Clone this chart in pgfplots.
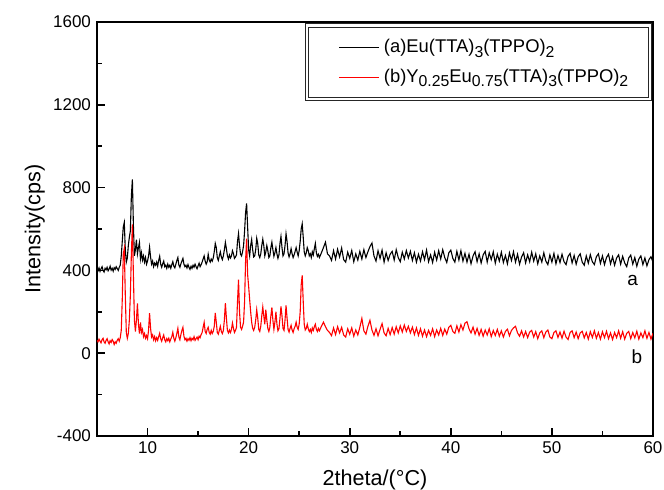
\documentclass[border=0pt]{standalone}
\usepackage{fontspec}
\setmainfont{Liberation Sans}
\usepackage{pgfplots}
\pgfplotsset{compat=1.18}
\newcommand\sub[1]{\raisebox{-0.45ex}{\fontsize{7.9}{8}\selectfont #1}}

\begin{document}
\fontsize{8.5}{10}\selectfont
\begin{tikzpicture}
\begin{axis}[
  scale only axis, width=278pt, height=207pt,
  xmin=5, xmax=60, ymin=-400, ymax=1600,
  xtick={10,20,...,60}, ytick={-400,0,...,1600},
  minor x tick num=1, minor y tick num=1,
  tick pos=left, tick align=inside,
  major tick length=4pt, minor tick length=2.5pt,
  axis line style={line width=0.9pt},
  every tick/.style={line width=0.8pt, black},
  tick label style={font=\fontsize{8.5}{10}\selectfont},
  /pgf/number format/assume math mode=true,
  /pgf/number format/set thousands separator={},
  xlabel={2theta/(°C)}, ylabel={Intensity(cps)},
  every axis x label/.style={at={(axis description cs:0.5,-0.106)}, anchor=center,
    font=\fontsize{10.8}{12}\selectfont},
  every axis y label/.style={at={(axis description cs:-0.112,0.5)}, rotate=90, anchor=center,
    font=\fontsize{10.8}{12}\selectfont},
  every axis plot/.append style={line width=0.55pt},
  legend style={at={(0.996,0.993)}, anchor=north east, draw=black!85,
    line width=0.5pt, double=white, double distance=1.2pt,
    inner xsep=9pt, inner ysep=5pt, row sep=3pt,
    font=\fontsize{9.2}{10}\selectfont, cells={anchor=west}},
  legend image code/.code={\path (0pt,0pt); \draw[#1, line width=0.5pt] (7pt,0pt) -- (27pt,0pt);},
]
% (a) Eu(TTA)3(TPPO)2
\addplot[black] coordinates {
(5.0,405) (5.1,398) (5.2,412) (5.3,395) (5.4,408) (5.5,418) (5.6,400) (5.7,392) (5.8,410) (5.9,403)
(6.0,415) (6.1,398) (6.2,407) (6.3,420) (6.4,401) (6.5,410) (6.6,396) (6.7,413) (6.8,405) (6.9,418)
(7.0,409) (7.1,400) (7.2,415) (7.3,425) (7.4,470) (7.5,540) (7.6,610) (7.7,632) (7.8,500) (7.9,440)
(8.0,460) (8.1,520) (8.2,560) (8.3,590) (8.4,760) (8.5,840) (8.6,620) (8.7,470) (8.8,500) (8.9,548)
(9.0,480) (9.1,510) (9.2,535) (9.3,455) (9.4,485) (9.5,450) (9.6,470) (9.7,440) (9.8,462) (9.9,430)
(10.0,445) (10.1,470) (10.2,512) (10.3,465) (10.4,430) (10.5,445) (10.6,418) (10.7,435) (10.8,425) (10.9,440)
(11.0,420) (11.1,448) (11.2,468) (11.3,430) (11.4,415) (11.5,432) (11.6,445) (11.7,418) (11.8,425) (11.9,410)
(12.0,430) (12.1,415) (12.2,425) (12.3,410) (12.4,428) (12.5,442) (12.6,420) (12.7,412) (12.8,430) (12.9,448)
(13.0,462) (13.1,425) (13.2,415) (13.3,432) (13.4,445) (13.5,458) (13.6,430) (13.7,418) (13.8,425) (13.9,412)
(14.0,428) (14.1,415) (14.2,405) (14.3,420) (14.4,410) (14.5,425) (14.6,415) (14.7,430) (14.8,418) (14.9,408)
(15.0,422) (15.1,435) (15.2,418) (15.3,428) (15.4,440) (15.5,455) (15.6,470) (15.7,445) (15.8,430) (15.9,442)
(16.0,478) (16.1,450) (16.2,440) (16.3,455) (16.4,445) (16.5,460) (16.6,490) (16.7,530) (16.8,510) (16.9,462)
(17.0,448) (17.1,470) (17.2,490) (17.3,465) (17.4,452) (17.5,470) (17.6,500) (17.7,535) (17.8,505) (17.9,470)
(18.0,455) (18.1,475) (18.2,460) (18.3,470) (18.4,495) (18.5,480) (18.6,458) (18.7,465) (18.8,475) (18.9,540)
(19.0,578) (19.1,520) (19.2,478) (19.3,470) (19.4,490) (19.5,520) (19.6,590) (19.7,680) (19.8,724) (19.9,610)
(20.0,500) (20.1,470) (20.2,520) (20.3,549) (20.4,500) (20.5,465) (20.6,470) (20.7,500) (20.8,555) (20.9,530)
(21.0,475) (21.1,462) (21.2,480) (21.3,520) (21.4,551) (21.5,520) (21.6,470) (21.7,490) (21.8,520) (21.9,495)
(22.0,462) (22.1,470) (22.2,510) (22.3,536) (22.4,500) (22.5,468) (22.6,485) (22.7,510) (22.8,480) (22.9,458)
(23.0,475) (23.1,530) (23.2,564) (23.3,510) (23.4,470) (23.5,480) (23.6,520) (23.7,577) (23.8,540) (23.9,485)
(24.0,465) (24.1,480) (24.2,505) (24.3,480) (24.4,462) (24.5,475) (24.6,492) (24.7,510) (24.8,488) (24.9,470)
(25.0,495) (25.1,540) (25.2,600) (25.3,625) (25.4,560) (25.5,490) (25.6,470) (25.7,485) (25.8,510) (25.9,495)
(26.0,470) (26.1,480) (26.2,462) (26.3,490) (26.4,475) (26.5,505) (26.6,530) (26.7,485) (26.8,468) (26.9,478)
(27.0,462) (27.2,485) (27.4,510) (27.6,536) (27.8,480) (28.0,470)
(28.2,448) (28.4,495) (28.6,455) (28.8,502) (29.0,465) (29.2,508) (29.4,452) (29.6,440) (29.8,488) (30.0,458)
(30.2,496) (30.4,442) (30.6,480) (30.8,450) (31.0,492) (31.2,455) (31.4,500) (31.6,462) (31.8,490) (32.0,515)
(32.2,532) (32.4,470) (32.6,445) (32.8,495) (33.0,458) (33.2,498) (33.4,440) (33.6,485) (33.8,448) (34.0,478)
(34.2,492) (34.4,450) (34.6,500) (34.8,462) (35.0,442) (35.2,488) (35.4,455) (35.6,496) (35.8,460) (36.0,492)
(36.2,448) (36.4,485) (36.6,440) (36.8,478) (37.0,445) (37.2,490) (37.4,452) (37.6,498) (37.8,442) (38.0,475)
(38.2,438) (38.4,488) (38.6,450) (38.8,495) (39.0,455) (39.2,500) (39.4,462) (39.6,438) (39.8,485) (40.0,498)
(40.2,458) (40.4,440) (40.6,492) (40.8,450) (41.0,495) (41.2,445) (41.4,482) (41.6,440) (41.8,478) (42.0,432)
(42.2,470) (42.4,490) (42.6,442) (42.8,480) (43.0,436) (43.2,475) (43.4,492) (43.6,440) (43.8,485) (44.0,452)
(44.2,490) (44.4,435) (44.6,478) (44.8,445) (45.0,488) (45.2,438) (45.4,472) (45.6,432) (45.8,485) (46.0,448)
(46.2,490) (46.4,440) (46.6,478) (46.8,430) (47.0,465) (47.2,485) (47.4,436) (47.6,475) (47.8,442) (48.0,488)
(48.2,445) (48.4,480) (48.6,432) (48.8,470) (49.0,440) (49.2,485) (49.4,445) (49.6,428) (49.8,475) (50.0,440)
(50.2,482) (50.4,432) (50.6,472) (50.8,438) (51.0,478) (51.2,442) (51.4,428) (51.6,468) (51.8,482) (52.0,436)
(52.2,472) (52.4,430) (52.6,466) (52.8,480) (53.0,440) (53.2,425) (53.4,470) (53.6,435) (53.8,476) (54.0,442)
(54.2,428) (54.4,466) (54.6,480) (54.8,434) (55.0,470) (55.2,428) (55.4,462) (55.6,478) (55.8,432) (56.0,466)
(56.2,425) (56.4,460) (56.6,475) (56.8,430) (57.0,468) (57.2,436) (57.4,418) (57.6,460) (57.8,474) (58.0,430)
(58.2,462) (58.4,420) (58.6,455) (58.8,470) (59.0,428) (59.2,460) (59.4,422) (59.6,452) (59.8,466) (60.0,440)
};
% (b) Y0.25Eu0.75(TTA)3(TPPO)2
\addplot[red] coordinates {
(5.0,62) (5.1,55) (5.2,68) (5.3,58) (5.4,50) (5.5,65) (5.6,72) (5.7,55) (5.8,48) (5.9,62)
(6.0,70) (6.1,55) (6.2,45) (6.3,60) (6.4,52) (6.5,66) (6.6,58) (6.7,42) (6.8,55) (6.9,48)
(7.0,62) (7.1,70) (7.2,58) (7.3,75) (7.4,110) (7.5,260) (7.6,480) (7.7,506) (7.8,280) (7.9,100)
(8.0,72) (8.1,95) (8.2,160) (8.3,280) (8.4,480) (8.5,622) (8.6,380) (8.7,160) (8.8,105) (8.9,160)
(9.0,241) (9.1,140) (9.2,95) (9.3,149) (9.4,100) (9.5,115) (9.6,80) (9.7,95) (9.8,72) (9.9,85)
(10.0,70) (10.1,110) (10.2,193) (10.3,120) (10.4,78) (10.5,88) (10.6,65) (10.7,80) (10.8,60) (10.9,75)
(11.0,62) (11.1,80) (11.2,96) (11.3,70) (11.4,58) (11.5,75) (11.6,88) (11.7,65) (11.8,55) (11.9,70)
(12.0,60) (12.1,72) (12.2,55) (12.3,68) (12.4,80) (12.5,101) (12.6,72) (12.7,58) (12.8,75) (12.9,95)
(13.0,120) (13.1,78) (13.2,65) (13.3,90) (13.4,110) (13.5,125) (13.6,82) (13.7,65) (13.8,72) (13.9,58)
(14.0,70) (14.1,62) (14.2,75) (14.3,60) (14.4,72) (14.5,65) (14.6,80) (14.7,62) (14.8,70) (14.9,78)
(15.0,65) (15.1,82) (15.2,75) (15.3,90) (15.4,100) (15.5,125) (15.6,149) (15.7,105) (15.8,95) (15.9,115)
(16.0,125) (16.1,100) (16.2,92) (16.3,110) (16.4,95) (16.5,105) (16.6,130) (16.7,194) (16.8,150) (16.9,100)
(17.0,92) (17.1,110) (17.2,130) (17.3,105) (17.4,95) (17.5,110) (17.6,160) (17.7,242) (17.8,170) (17.9,110)
(18.0,98) (18.1,112) (18.2,100) (18.3,115) (18.4,146) (18.5,120) (18.6,100) (18.7,110) (18.8,125) (18.9,250)
(19.0,355) (19.1,200) (19.2,125) (19.3,115) (19.4,130) (19.5,150) (19.6,250) (19.7,450) (19.8,553) (19.9,380)
(20.0,323) (20.1,260) (20.2,200) (20.3,150) (20.4,120) (20.5,110) (20.6,125) (20.7,160) (20.8,210) (20.9,170)
(21.0,115) (21.1,105) (21.2,130) (21.3,180) (21.4,223) (21.5,180) (21.6,140) (21.7,210) (21.8,160) (21.9,120)
(22.0,105) (22.1,125) (22.2,180) (22.3,221) (22.4,160) (22.5,115) (22.6,150) (22.7,200) (22.8,140) (22.9,108)
(23.0,118) (23.1,170) (23.2,226) (23.3,180) (23.4,120) (23.5,110) (23.6,160) (23.7,231) (23.8,170) (23.9,115)
(24.0,102) (24.1,120) (24.2,135) (24.3,112) (24.4,100) (24.5,118) (24.6,130) (24.7,150) (24.8,125) (24.9,115)
(25.0,140) (25.1,200) (25.2,330) (25.3,376) (25.4,250) (25.5,140) (25.6,112) (25.7,120) (25.8,140) (25.9,118)
(26.0,105) (26.1,115) (26.2,100) (26.3,122) (26.4,110) (26.5,128) (26.6,140) (26.7,115) (26.8,105) (26.9,120)
(27.0,108) (27.2,130) (27.4,150) (27.6,128) (27.8,110) (28.0,100)
(28.2,85) (28.4,122) (28.6,90) (28.8,128) (29.0,98) (29.2,125) (29.4,88) (29.6,78) (29.8,118) (30.0,92)
(30.2,122) (30.4,82) (30.6,112) (30.8,88) (31.0,125) (31.2,168) (31.4,108) (31.6,92) (31.8,130) (32.0,159)
(32.2,112) (32.4,86) (32.6,118) (32.8,84) (33.0,115) (33.2,143) (33.4,98) (33.6,84) (33.8,120) (34.0,90)
(34.2,124) (34.4,92) (34.6,128) (34.8,98) (35.0,132) (35.2,102) (35.4,136) (35.6,105) (35.8,130) (36.0,98)
(36.2,126) (36.4,90) (36.6,122) (36.8,86) (37.0,118) (37.2,82) (37.4,112) (37.6,80) (37.8,110) (38.0,86)
(38.2,118) (38.4,80) (38.6,112) (38.8,88) (39.0,120) (39.2,86) (39.4,116) (39.6,92) (39.8,125) (40.0,135)
(40.2,105) (40.4,96) (40.6,132) (40.8,102) (41.0,138) (41.2,112) (41.4,145) (41.6,152) (41.8,118) (42.0,98)
(42.2,126) (42.4,92) (42.6,120) (42.8,86) (43.0,115) (43.2,82) (43.4,112) (43.6,88) (43.8,118) (44.0,80)
(44.2,110) (44.4,85) (44.6,115) (44.8,82) (45.0,108) (45.2,78) (45.4,105) (45.6,116) (45.8,84) (46.0,110)
(46.2,122) (46.4,130) (46.6,98) (46.8,82) (47.0,108) (47.2,78) (47.4,105) (47.6,75) (47.8,102) (48.0,110)
(48.2,78) (48.4,104) (48.6,70) (48.8,98) (49.0,108) (49.2,75) (49.4,102) (49.6,112) (49.8,78) (50.0,70)
(50.2,100) (50.4,108) (50.6,76) (50.8,102) (51.0,72) (51.2,106) (51.4,78) (51.6,66) (51.8,100) (52.0,108)
(52.2,75) (52.4,102) (52.6,70) (52.8,98) (53.0,106) (53.2,74) (53.4,100) (53.6,68) (53.8,104) (54.0,76)
(54.2,108) (54.4,72) (54.6,100) (54.8,68) (55.0,104) (55.2,75) (55.4,106) (55.6,70) (55.8,98) (56.0,66)
(56.2,100) (56.4,75) (56.6,108) (56.8,72) (57.0,104) (57.2,68) (57.4,96) (57.6,105) (57.8,70) (58.0,100)
(58.2,74) (58.4,106) (58.6,68) (58.8,98) (59.0,75) (59.2,108) (59.4,72) (59.6,100) (59.8,68) (60.0,96)
};
\legend{(a)Eu(TTA)\sub{3}(TPPO)\sub{2}, (b)Y\sub{0.25}Eu\sub{0.75}(TTA)\sub{3}(TPPO)\sub{2}}
\node[font=\fontsize{9.5}{11}\selectfont] at (axis cs:58.0,352) {a};
\node[font=\fontsize{9.5}{11}\selectfont] at (axis cs:58.4,-19) {b};
\end{axis}
\pgfresetboundingbox
\path[use as bounding box] (-48.5pt,-27pt) rectangle (283.5pt,218pt);
\end{tikzpicture}
\end{document}
